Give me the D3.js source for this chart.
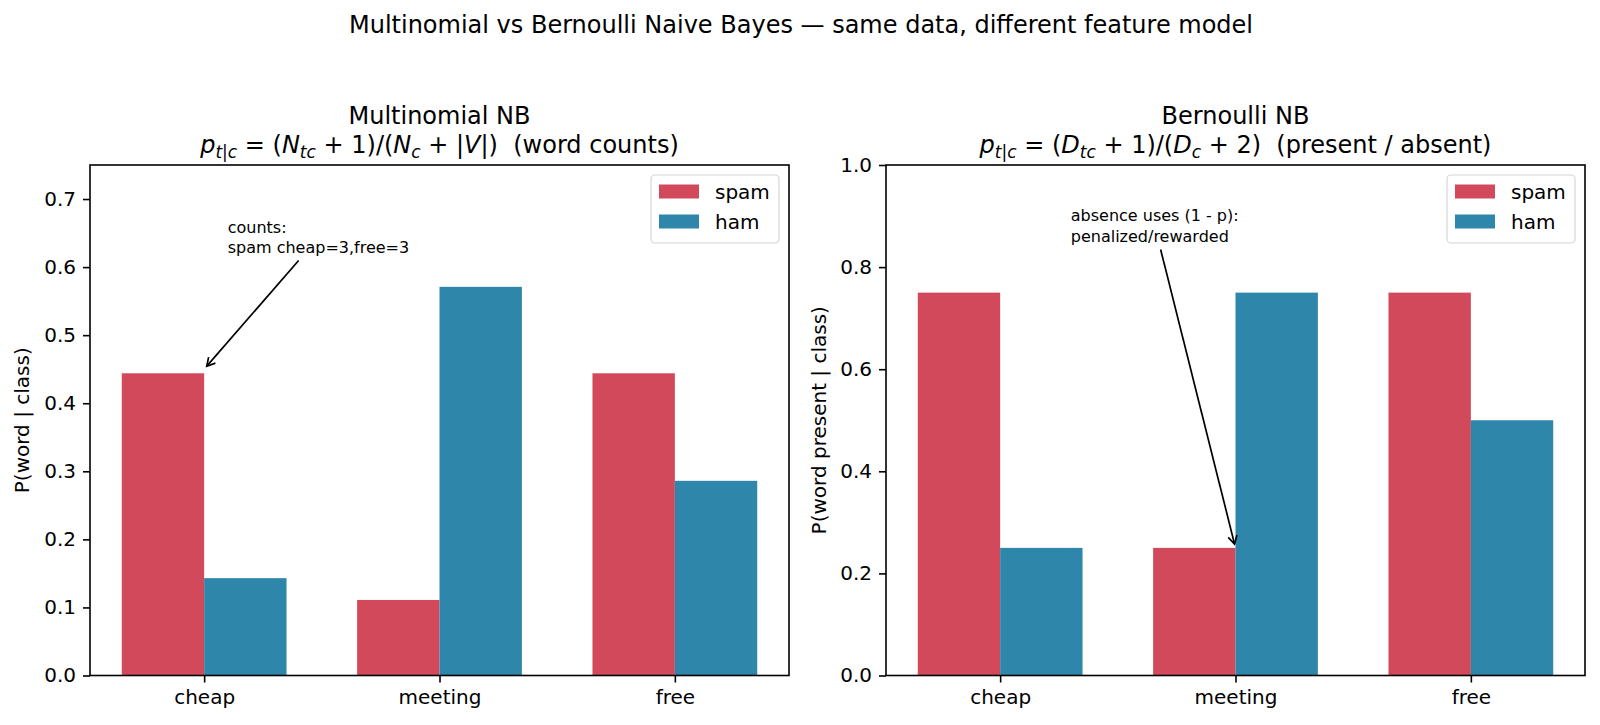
<!DOCTYPE html>
<html>
<head>
<meta charset="utf-8">
<title>Multinomial vs Bernoulli NB</title>
<script src="https://cdn.jsdelivr.net/npm/d3@7"></script>
<style>
  body { margin: 0; background: #fff; }
  svg text { font-family: "DejaVu Sans", sans-serif; fill: #000; }
</style>
</head>
<body>
<div id="chart"></div>
<script>
// data
var words = ["cheap", "meeting", "free"];
var multiSpam = [0.444, 0.111, 0.444];
var multiHam = [0.143, 0.571, 0.286];
var bernSpam = [0.75, 0.25, 0.75];
var bernHam = [0.25, 0.75, 0.5];
var multiTicks = [0, 0.1, 0.2, 0.3, 0.4, 0.5, 0.6, 0.7];
var bernTicks = [0, 0.2, 0.4, 0.6, 0.8, 1.0];
var seriesNames = ["spam", "ham"];
var colors = ["#d1495b", "#2e86ab"];

var W = 1600, H = 725;
var svg = d3.select("#chart").append("svg")
  .attr("width", W).attr("height", H);

svg.append("text")
  .attr("x", 801).attr("y", 33)
  .attr("text-anchor", "middle")
  .style("font-size", "24px")
  .text("Multinomial vs Bernoulli Naive Bayes \u2014 same data, different feature model");

// mathtext-ish title line: segments of {t, it, sub}
function mathLine(txt, segs) {
  var shift = 0;
  segs.forEach(function (s) {
    var ts = txt.append("tspan").text(s.t);
    if (s.it) ts.style("font-style", "italic");
    var want = s.sub ? 5 : 0;
    if (want !== shift) { ts.attr("dy", want - shift); shift = want; }
    if (s.sub) ts.style("font-size", "17px");
  });
}

function panel(o) {
  var left = o.left, right = o.right, top = 165, bottom = 675.5;
  var x = d3.scaleLinear().domain([-0.485, 2.485]).range([left, right]);
  var y = d3.scaleLinear().domain([0, o.ymax]).range([bottom, top]);
  var bw = 0.35;
  var g = svg.append("g");

  [o.spam, o.ham].forEach(function (vals, si) {
    g.selectAll(null).data(vals).enter().append("rect")
      .attr("x", function (d, i) { return x(i + (si === 0 ? -bw : 0)); })
      .attr("y", function (d) { return y(d); })
      .attr("width", x(bw) - x(0))
      .attr("height", function (d) { return y(0) - y(d); })
      .attr("fill", colors[si]);
  });

  var ya = g.append("g")
    .attr("transform", "translate(" + left + ",0)")
    .call(d3.axisLeft(y).tickValues(o.ticks).tickFormat(d3.format(".1f")).tickSize(7).tickPadding(7));
  var xa = g.append("g")
    .attr("transform", "translate(0," + bottom + ")")
    .call(d3.axisBottom(x).tickValues([0, 1, 2]).tickFormat(function (i) { return words[i]; }).tickSize(7).tickPadding(7));
  [ya, xa].forEach(function (a) {
    a.select(".domain").remove();
    a.selectAll("line").attr("stroke", "#000").attr("stroke-width", 1.6);
    a.selectAll("text").style("font-size", "20px").style("font-family", "DejaVu Sans").attr("fill", "#000");
  });

  g.append("rect")
    .attr("x", left).attr("y", top)
    .attr("width", right - left).attr("height", bottom - top)
    .attr("fill", "none").attr("stroke", "#000").attr("stroke-width", 1.6);

  // y label
  g.append("text")
    .attr("transform", "translate(" + o.ylabX + "," + ((top + bottom) / 2) + ") rotate(-90)")
    .attr("text-anchor", "middle")
    .style("font-size", "20px")
    .text(o.ylabel);

  // title
  var cx = (left + right) / 2;
  g.append("text").attr("x", cx).attr("y", 124)
    .attr("text-anchor", "middle").style("font-size", "24px").text(o.title);
  var t2 = g.append("text").attr("x", cx).attr("y", 153)
    .attr("text-anchor", "middle").style("font-size", "24px");
  mathLine(t2, o.formula);

  // legend
  var lx = right - 10 - 128, ly = top + 10;
  var lg = g.append("g");
  lg.append("rect")
    .attr("x", lx).attr("y", ly).attr("width", 128).attr("height", 68)
    .attr("rx", 4)
    .attr("fill", "#fff").attr("fill-opacity", 0.8)
    .attr("stroke", "#d6d6d6").attr("stroke-width", 1.2);
  seriesNames.forEach(function (n, i) {
    var ry = ly + 16.5 + i * 30;
    lg.append("rect")
      .attr("x", lx + 8).attr("y", ry - 7).attr("width", 40).attr("height", 14)
      .attr("fill", colors[i]);
    lg.append("text")
      .attr("x", lx + 64).attr("y", ry + 7)
      .style("font-size", "20px").text(n);
  });

  // annotation with arrow
  var a = o.note;
  var tx = x(a.tx), tyBase = y(a.ty);
  var nt = g.append("text").attr("x", tx).attr("y", tyBase - 20.5)
    .style("font-size", "16px");
  a.lines.forEach(function (l, i) {
    nt.append("tspan").attr("x", tx).attr("dy", i === 0 ? 0 : 20.5).text(l);
  });
  var bb = nt.node().getBBox();
  var c0 = [bb.x + bb.width / 2, bb.y + bb.height / 2];
  var p1 = [x(a.ax), y(a.ay)];
  var dx = p1[0] - c0[0], dy = p1[1] - c0[1];
  // clip the line at the text box
  var tBox = Math.min(
    dx !== 0 ? (bb.width / 2) / Math.abs(dx) : Infinity,
    dy !== 0 ? (bb.height / 2) / Math.abs(dy) : Infinity);
  var len = Math.sqrt(dx * dx + dy * dy);
  var ux = dx / len, uy = dy / len;
  var s = [c0[0] + dx * tBox + ux * 4, c0[1] + dy * tBox + uy * 4];
  var e = [p1[0] - ux * 4, p1[1] - uy * 4];
  g.append("line")
    .attr("x1", s[0]).attr("y1", s[1]).attr("x2", e[0]).attr("y2", e[1])
    .attr("stroke", "#000").attr("stroke-width", 1.7);
  var hl = 8, hw = 4.5;
  var bx = e[0] - ux * hl, by = e[1] - uy * hl;
  g.append("path")
    .attr("d", "M" + (bx - uy * hw) + "," + (by + ux * hw) + "L" + e[0] + "," + e[1] + "L" + (bx + uy * hw) + "," + (by - ux * hw))
    .attr("fill", "none").attr("stroke", "#000").attr("stroke-width", 1.7);
}

panel({
  left: 90, right: 789, ymax: 0.75, ticks: multiTicks,
  spam: multiSpam, ham: multiHam,
  ylabel: "P(word | class)", ylabX: 29,
  title: "Multinomial NB",
  formula: [
    {t: "p", it: true}, {t: "t|c", it: true, sub: true}, {t: " = (", it: false},
    {t: "N", it: true}, {t: "tc", it: true, sub: true}, {t: " + 1)/(", it: false},
    {t: "N", it: true}, {t: "c", it: true, sub: true}, {t: " + |", it: false},
    {t: "V", it: true}, {t: "|)\u00a0\u00a0(word counts)", it: false}
  ],
  note: {lines: ["counts:", "spam cheap=3,free=3"], tx: 0.1, ty: 0.62, ax: 0, ay: 0.45}
});

panel({
  left: 886, right: 1585, ymax: 1.0, ticks: bernTicks,
  spam: bernSpam, ham: bernHam,
  ylabel: "P(word present | class)", ylabX: 826,
  title: "Bernoulli NB",
  formula: [
    {t: "p", it: true}, {t: "t|c", it: true, sub: true}, {t: " = (", it: false},
    {t: "D", it: true}, {t: "tc", it: true, sub: true}, {t: " + 1)/(", it: false},
    {t: "D", it: true}, {t: "c", it: true, sub: true}, {t: " + 2)\u00a0\u00a0(present / absent)", it: false}
  ],
  note: {lines: ["absence uses (1 - p):", "penalized/rewarded"], tx: 0.3, ty: 0.85, ax: 1, ay: 0.25}
});
</script>
</body>
</html>
